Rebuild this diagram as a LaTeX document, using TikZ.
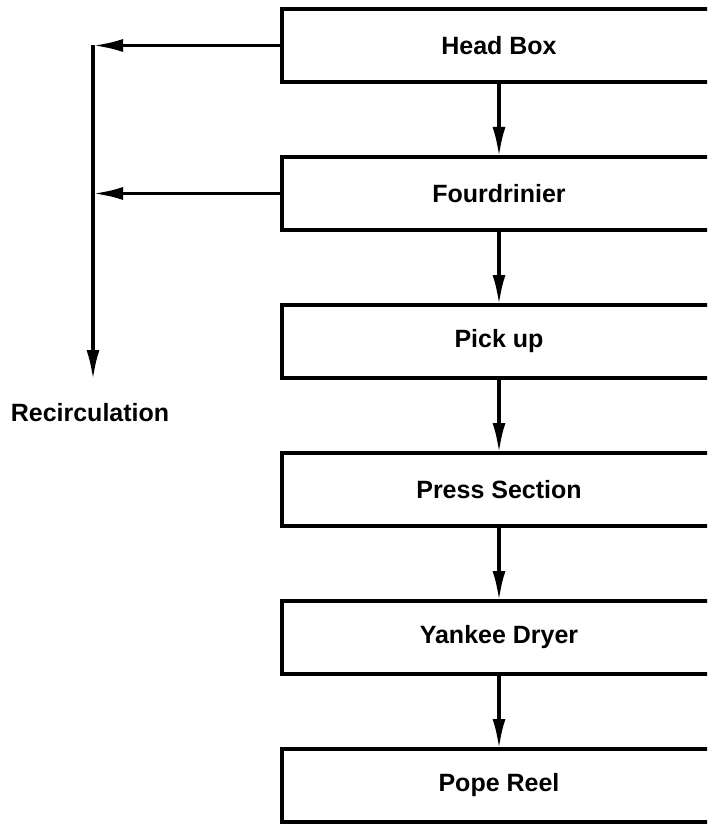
\documentclass[tikz,border=0pt]{standalone}
\usepackage{fontspec}
\setmainfont{Liberation Sans}
\usetikzlibrary{positioning,arrows.meta}
\begin{document}
\begin{tikzpicture}
[x=1pt,y=-1pt,
node distance=75pt,
every node/.style={font=\bfseries\fontsize{25}{30}\selectfont},
stage/.style={draw,line width=3.5pt,minimum width=434pt,minimum height=73pt,outer sep=0pt},
flow/.style={line width=3.5pt,-{Latex[length=30pt,width=13pt]}}]
\useasboundingbox (0,0) rectangle (707,826);
\clip (0,0) rectangle (707,826);
\node[stage] (head) at (499,45.5) {Head Box};
\node[stage,below=of head] (fourd) {Fourdrinier};
\node[stage,below=of fourd] (pick) {Pick up};
\node[stage,below=of pick] (press) {Press Section};
\node[stage,below=of press] (yankee) {Yankee Dryer};
\node[stage,below=of yankee] (pope) {Pope Reel};
\draw[flow] (head) -- (fourd);
\draw[flow] (fourd) -- (pick);
\draw[flow] (pick) -- (press);
\draw[flow] (press) -- (yankee);
\draw[flow] (yankee) -- (pope);
% recirculation branch
\coordinate (rend) at (93,380);
\draw[flow] (head.west) -- (head.west -| rend);
\draw[flow] (fourd.west) -- (fourd.west -| rend);
\draw[flow] (head.west -| rend) -- (rend);
\node (recirc) at (90,413) {Recirculation};
\end{tikzpicture}
\end{document}
